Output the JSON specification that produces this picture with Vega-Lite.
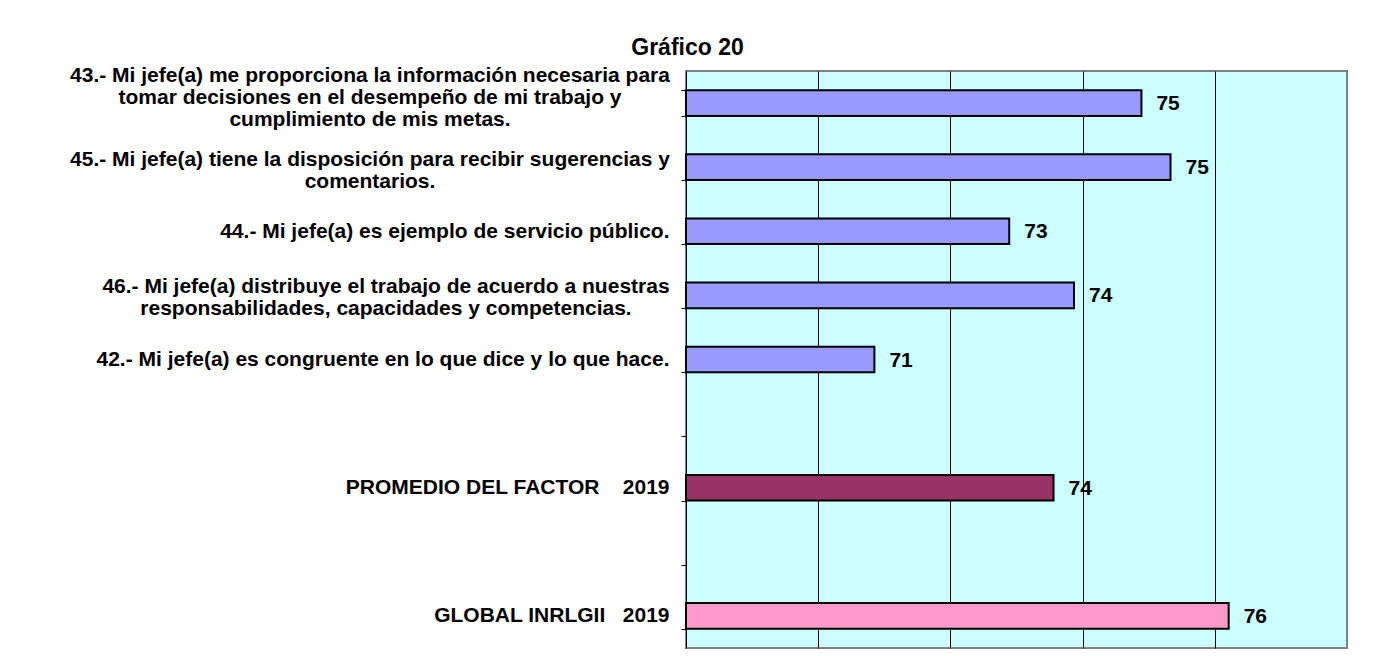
{
  "$schema": "https://vega.github.io/schema/vega-lite/v6.json",
  "width": 661,
  "height": 577,
  "autosize": "none",
  "padding": {"left": 686, "top": 71, "right": 28, "bottom": 8},
  "background": "white",
  "title": {
    "text": "Gráfico 20",
    "font": "Liberation Sans",
    "fontSize": 23,
    "fontWeight": "bold",
    "color": "black",
    "anchor": "middle",
    "frame": "bounds",
    "baseline": "alphabetic",
    "offset": 13,
    "dx": -21,
    "dy": 31
  },
  "data": {
    "values": [
      {"label": "43.- Mi jefe(a) me proporciona la información necesaria para|tomar decisiones en el desempeño de mi trabajo y|cumplimiento de mis metas.", "value": 74.89, "group": "q"},
      {"label": "45.- Mi jefe(a) tiene la disposición para recibir sugerencias y|comentarios.", "value": 75.33, "group": "q"},
      {"label": "44.- Mi jefe(a) es ejemplo de servicio público.", "value": 72.89, "group": "q"},
      {"label": "46.- Mi jefe(a) distribuye el trabajo de acuerdo a nuestras|responsabilidades, capacidades y competencias.", "value": 73.87, "group": "q"},
      {"label": "42.- Mi jefe(a) es congruente en lo que dice y lo que hace.", "value": 70.85, "group": "q"},
      {"label": "PROMEDIO DEL FACTOR\u00a0\u00a0\u00a0\u00a02019", "value": 73.56, "group": "p"},
      {"label": "GLOBAL INRLGII\u00a0\u00a0\u00a02019", "value": 76.21, "group": "g"}
    ]
  },
  "encoding": {
    "y": {
      "field": "label",
      "type": "nominal",
      "scale": {
        "domain": [
          "43.- Mi jefe(a) me proporciona la información necesaria para|tomar decisiones en el desempeño de mi trabajo y|cumplimiento de mis metas.",
          "45.- Mi jefe(a) tiene la disposición para recibir sugerencias y|comentarios.",
          "44.- Mi jefe(a) es ejemplo de servicio público.",
          "46.- Mi jefe(a) distribuye el trabajo de acuerdo a nuestras|responsabilidades, capacidades y competencias.",
          "42.- Mi jefe(a) es congruente en lo que dice y lo que hace.",
          " ",
          "PROMEDIO DEL FACTOR\u00a0\u00a0\u00a0\u00a02019",
          "  ",
          "GLOBAL INRLGII\u00a0\u00a0\u00a02019"
        ],
        "paddingInner": 0.6,
        "paddingOuter": 0.3
      },
      "axis": {
        "title": null,
        "labelFont": "Liberation Sans",
        "labelFontSize": 21,
        "labelFontWeight": "bold",
        "labelColor": "black",
        "labelLimit": 700,
        "labelPadding": 12,
        "labelAlign": "right",
        "labelBaseline": "middle",
        "labelExpr": "indexof(datum.label, '|') >= 0 ? '' : datum.label",
        "tickBand": "extent",
        "tickColor": "black",
        "tickSize": 5,
        "domainColor": "black",
        "domainWidth": 1,
        "grid": false
      }
    },
    "x": {
      "field": "value",
      "type": "quantitative",
      "scale": {"domain": [68, 78], "nice": false, "zero": false},
      "axis": {
        "title": null,
        "labels": false,
        "ticks": false,
        "domain": false,
        "grid": true,
        "values": [70, 72, 74, 76],
        "gridColor": "black",
        "gridWidth": 1,
        "gridOpacity": 1
      }
    }
  },
  "layer": [
    {
      "mark": {"type": "bar", "stroke": "black", "strokeWidth": 2},
      "encoding": {
        "x2": {"datum": 68},
        "color": {
          "field": "group",
          "type": "nominal",
          "scale": {"domain": ["q", "p", "g"], "range": ["#9999FF", "#993366", "#FF99CC"]},
          "legend": null
        }
      }
    },
    {
      "mark": {
        "type": "text",
        "align": "left",
        "baseline": "middle",
        "dx": 15,
        "dy": 1,
        "font": "Liberation Sans",
        "fontSize": 21,
        "fontWeight": "bold",
        "color": "black"
      },
      "encoding": {
        "text": {"field": "value", "type": "quantitative", "format": ".0f"}
      }
    },
    {
      "transform": [{"filter": "indexof(datum.label, '43.-') == 0"}],
      "mark": {
        "type": "text",
        "align": "center",
        "baseline": "middle",
        "lineBreak": "|",
        "lineHeight": 22,
        "dx": -316,
        "dy": -27,
        "font": "Liberation Sans",
        "fontSize": 21,
        "fontWeight": "bold",
        "color": "black"
      },
      "encoding": {
        "x": {"datum": 68, "type": "quantitative"},
        "text": {"field": "label", "type": "nominal"}
      }
    },
    {
      "transform": [{"filter": "indexof(datum.label, '45.-') == 0"}],
      "mark": {
        "type": "text",
        "align": "center",
        "baseline": "middle",
        "lineBreak": "|",
        "lineHeight": 22,
        "dx": -316,
        "dy": -7,
        "font": "Liberation Sans",
        "fontSize": 21,
        "fontWeight": "bold",
        "color": "black"
      },
      "encoding": {
        "x": {"datum": 68, "type": "quantitative"},
        "text": {"field": "label", "type": "nominal"}
      }
    },
    {
      "transform": [{"filter": "indexof(datum.label, '46.-') == 0"}],
      "mark": {
        "type": "text",
        "align": "center",
        "baseline": "middle",
        "lineBreak": "|",
        "lineHeight": 22,
        "dx": -300,
        "dy": -8,
        "font": "Liberation Sans",
        "fontSize": 21,
        "fontWeight": "bold",
        "color": "black"
      },
      "encoding": {
        "x": {"datum": 68, "type": "quantitative"},
        "text": {"field": "label", "type": "nominal"}
      }
    }
  ],
  "config": {
    "view": {"fill": "#CCFFFF", "stroke": "#808080", "strokeWidth": 2}
  }
}
